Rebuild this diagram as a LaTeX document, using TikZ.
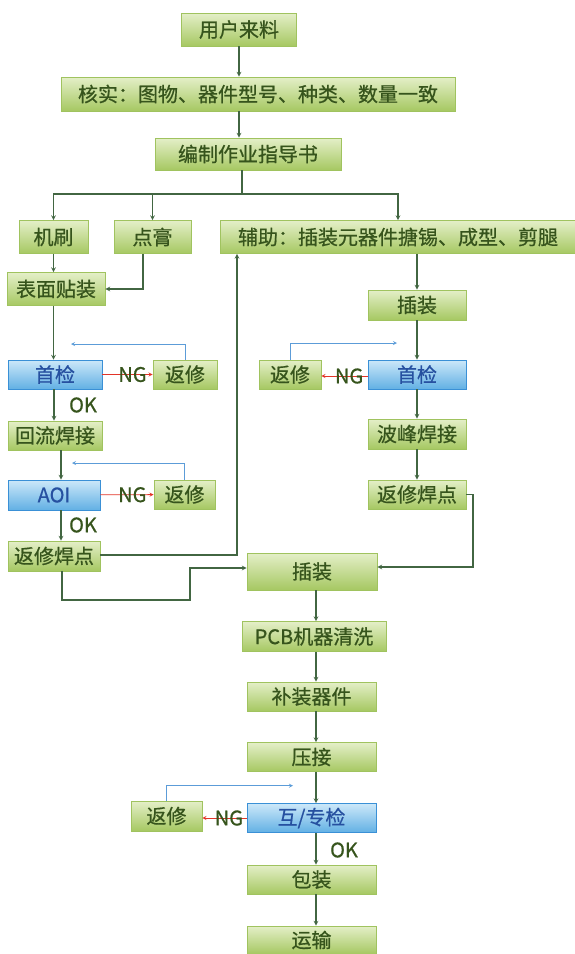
\documentclass[tikz,border=0pt]{standalone}
\usepackage{fontspec}
\setmainfont{Noto Sans CJK SC}[FakeBold=0.7]
\definecolor{leafTop}{RGB}{228,239,200}
\definecolor{leafBot}{RGB}{166,200,98}
\definecolor{leafLine}{RGB}{160,195,95}
\definecolor{leafText}{RGB}{54,84,28}
\definecolor{skyTop}{RGB}{204,232,249}
\definecolor{skyBot}{RGB}{98,176,228}
\definecolor{skyLine}{RGB}{58,144,214}
\definecolor{skyText}{RGB}{38,80,160}
\definecolor{wire}{RGB}{66,102,66}
\definecolor{loopback}{RGB}{92,156,216}
\definecolor{ngred}{RGB}{226,52,40}

\begin{document}
\begin{tikzpicture}[x=1pt,y=-1pt,->,>=stealth,
    main node/.style={draw=leafLine,line width=0.8pt,top color=leafTop,bottom color=leafBot,text=leafText,font=\fontsize{20}{20}\selectfont,inner sep=0pt,minimum height=30pt},
    check node/.style={main node,draw=skyLine,top color=skyTop,bottom color=skyBot,text=skyText},
    note/.style={font=\fontsize{20}{20}\selectfont,text=leafText,inner sep=0pt},
    wire line/.style={wire,line width=1.1pt},
    back line/.style={loopback,line width=0.8pt},
    ng line/.style={ngred,line width=0.8pt}]
    \useasboundingbox (0,0) rectangle (575,954);

    % top of the flow
    \node[main node,minimum width=115pt,minimum height=33pt] (source) at (239,29.5) {用户来料};
    \node[main node,minimum width=394pt,minimum height=34pt] (verify) at (258,94) {核实：图物、器件型号、种类、数量一致};
    \node[main node,minimum width=186pt,minimum height=32pt] (guide) at (248,154) {编制作业指导书};
    \node[main node,minimum width=69pt,minimum height=33pt] (brush) at (53.5,237) {机刷};
    \node[main node,minimum width=77pt,minimum height=33pt] (paste) at (152.5,237) {点膏};
    \node[main node,minimum width=355pt,minimum height=33pt] (assist) at (398,237) {辅助：插装元器件搪锡、成型、剪腿};

    % left branch
    \node[main node,minimum width=98pt,minimum height=33pt] (smt) at (56,289) {表面贴装};
    \node[check node,minimum width=94pt,minimum height=29pt] (first1) at (55,374.5) {首检};
    \node[main node,minimum width=64pt,minimum height=29pt] (repair1) at (185,374.5) {返修};
    \node[main node,minimum width=94pt,minimum height=29pt] (reflow) at (55,435.5) {回流焊接};
    \node[check node,minimum width=92pt] (aoi) at (54,495) {AOI};
    \node[main node,minimum width=61pt,minimum height=29pt] (repair2) at (184.5,494.5) {返修};
    \node[main node,minimum width=92pt] (touch1) at (54,556) {返修焊点};
    \node[note] (ok1) at (83,405) {OK};
    \node[note] (ok2) at (83,525) {OK};

    % right branch
    \node[main node,minimum width=98pt] (insert1) at (417,305) {插装};
    \node[check node,minimum width=98pt,minimum height=29pt] (first2) at (417,374.5) {首检};
    \node[main node,minimum width=62pt,minimum height=29pt] (repair3) at (290,374.5) {返修};
    \node[main node,minimum width=98pt] (wave) at (417,434) {波峰焊接};
    \node[main node,minimum width=98pt,minimum height=29pt] (touch2) at (417,494.5) {返修焊点};

    % bottom of the flow
    \node[main node,minimum width=130pt,minimum height=37pt] (insert2) at (312,571.5) {插装};
    \node[main node,minimum width=144pt] (wash) at (314,636.5) {PCB机器清洗};
    \node[main node,minimum width=129pt,minimum height=29pt] (fill) at (311.5,696.5) {补装器件};
    \node[main node,minimum width=129pt,minimum height=29pt] (press) at (311.5,757) {压接};
    \node[check node,minimum width=129pt,minimum height=29pt] (inspect) at (311.5,818) {互/专检};
    \node[main node,minimum width=71pt] (repair4) at (166.5,816) {返修};
    \node[main node,minimum width=129pt,minimum height=29pt] (pack) at (311.5,879.5) {包装};
    \node[main node,minimum width=129pt,minimum height=28pt] (ship) at (311.5,940) {运输};
    \node[note] (ok3) at (344,850) {OK};

    \coordinate (split) at (242,194);
    \coordinate (lift) at (237,555);
    \coordinate (jog) at (190,600);
    \coordinate (drop) at (473,567);
    \coordinate (spine) at (316,600);
    \coordinate (back1) at (71,344);
    \coordinate (back2) at (72,463);
    \coordinate (back3) at (397,343);
    \coordinate (back4) at (293,785.7);

    \path[wire line]
        (source.south) edge (source.south |- verify.north)
        (verify.south -| source) edge (guide.north -| source)
        (brush.south) edge (brush.south |- smt.north)
        (brush.south |- smt.south) edge (brush.south |- first1.north)
        (first1.south -| aoi) edge (reflow.north -| aoi)
        ([xshift=6pt]reflow.south) edge ([xshift=6pt]reflow.south |- aoi.north)
        ([xshift=7pt]aoi.south) edge ([xshift=7pt]aoi.south |- touch1.north)
        (insert1.north |- assist.south) edge (insert1.north)
        (insert1) edge (first2)
        (first2) edge (wave)
        (wave) edge (touch2)
        (insert2.south -| spine) edge (wash.north -| spine)
        (wash.south -| spine) edge (fill.north -| spine)
        (fill.south -| spine) edge (press.north -| spine)
        (press.south -| spine) edge (inspect.north -| spine)
        (inspect.south -| spine) edge (pack.north -| spine)
        (pack.south -| spine) edge (ship.north -| spine)
    ;

    \draw[wire line,-] (guide.south -| split) -- (split);
    \draw[wire line] (split) -| (brush);
    \draw[wire line] (split) -| (paste);
    \draw[wire line] (split) -| (assist);
    \draw[wire line] ([xshift=-9.5pt]paste.south) |- (smt);
    \draw[wire line] (touch1.east |- lift) -| (assist.south -| lift);
    \draw[wire line] ([xshift=8pt]touch1.south) |- (jog) |- ([yshift=3.5pt]insert2.west);
    \draw[wire line] (touch2) -| (drop) -- (drop -| insert2.east);

    % NG branches
    \draw[ng line] (first1) -- node[note,pos=0.6] {NG} (repair1);
    \draw[ng line] (aoi) -- node[note,pos=0.6] {NG} (repair2);
    \draw[ng line] ([yshift=-1.5pt]first2.west) -- node[note,pos=0.4] {NG} ([yshift=-1.5pt]repair3.east);
    \draw[ng line] (inspect.west) -- node[note,pos=0.4] {NG} (inspect.west -| repair4.east);

    % repaired boards go back
    \draw[back line] (repair1.north) |- (back1);
    \draw[back line] (repair2.north) |- (back2);
    \draw[back line] (repair3.north) |- (back3);
    \draw[back line] (repair4.north) |- (back4);
\end{tikzpicture}
\end{document}
